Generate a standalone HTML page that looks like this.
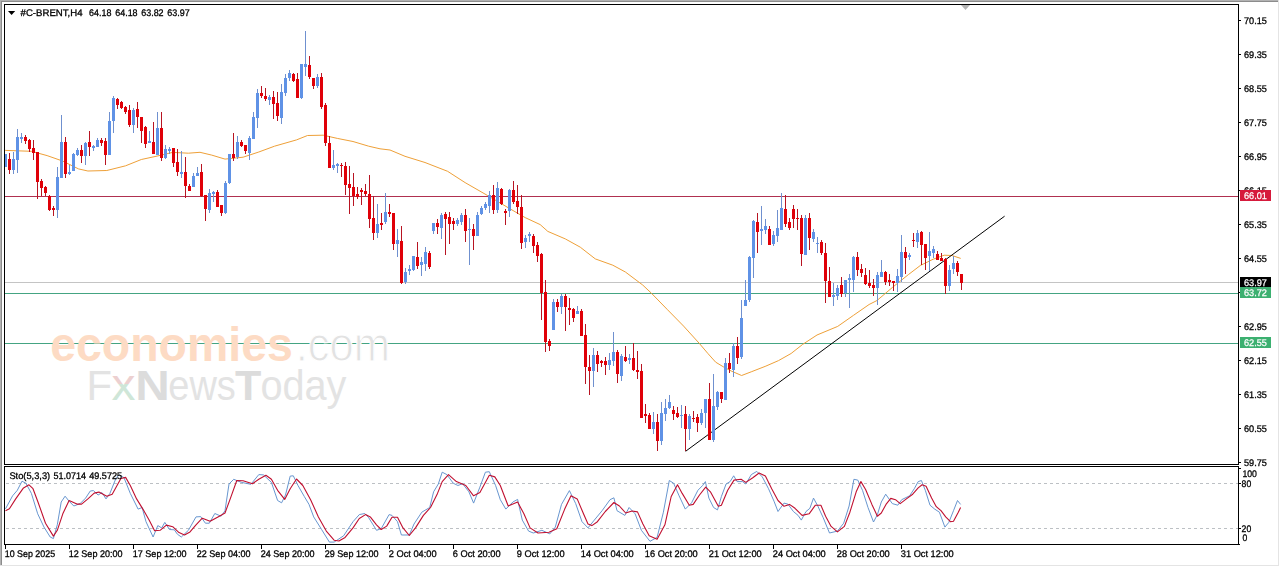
<!DOCTYPE html>
<html><head><meta charset="utf-8"><title>#C-BRENT,H4</title>
<style>html,body{margin:0;padding:0;background:#fff;overflow:hidden}svg{display:block}text{font-family:"Liberation Sans",sans-serif}</style></head><body>
<svg width="1280" height="567" viewBox="0 0 1280 567">
<rect width="1280" height="567" fill="#fff"/>
<g shape-rendering="crispEdges">
<rect x="0" y="0" width="1278" height="1" fill="#b2b2b2"/><rect x="0" y="1" width="1278" height="1" fill="#8c8c8c"/>
<rect x="0" y="0" width="1" height="566" fill="#b2b2b2"/><rect x="1" y="1" width="1" height="565" fill="#8c8c8c"/>
<rect x="1278" y="0" width="1" height="566" fill="#e4e4e4"/><rect x="0" y="565" width="1279" height="1" fill="#e4e4e4"/>
</g>
<g shape-rendering="crispEdges">
<rect x="5" y="196" width="1233" height="1" fill="#b03050"/>
<rect x="5" y="282" width="1233" height="1" fill="#c4c4c4"/>
<rect x="5" y="293" width="1233" height="1" fill="#44a482"/>
<rect x="5" y="343" width="1233" height="1" fill="#44a482"/>
</g>
<g id="wm">
<text x="50.2" y="360.6" font-size="48" font-weight="bold" fill="#fddbc4" textLength="242.6" lengthAdjust="spacingAndGlyphs">economies</text>
<text x="295.7" y="360.6" font-size="48" fill="#e2e2e2" stroke="#fff" stroke-width="1.1" textLength="94.3" lengthAdjust="spacingAndGlyphs">.com</text>
<defs><linearGradient id="xg" x1="0" y1="0" x2="0" y2="1"><stop offset="0.5" stop-color="#ecd0d0"/><stop offset="0.5" stop-color="#cfe6d8"/></linearGradient></defs>
<text x="86.4" y="399.8" font-size="41.8" fill="#e3e3e3">F</text>
<text x="111.5" y="399.8" font-size="44" fill="url(#xg)" textLength="24" lengthAdjust="spacingAndGlyphs">x</text>
<text x="135.2" y="399.8" font-size="41.8" font-weight="bold" fill="#dcdcdc" textLength="34.5" lengthAdjust="spacingAndGlyphs">N</text>
<text x="168.3" y="399.8" font-size="41.8" fill="#e3e3e3" textLength="67.5" lengthAdjust="spacingAndGlyphs">ews</text>
<text x="235" y="399.8" font-size="41.8" font-weight="bold" fill="#dcdcdc" textLength="26.3" lengthAdjust="spacingAndGlyphs">T</text>
<text x="260.4" y="399.8" font-size="41.8" fill="#e3e3e3" textLength="86" lengthAdjust="spacingAndGlyphs">oday</text>
</g>
<polyline points="4.0,150.4 5.5,150.4 31.4,151.3 47.1,155.6 62.8,161.1 78.5,168.9 87.9,171.0 106.8,170.5 125.6,165.8 141.3,159.5 157.0,156.1 172.7,152.4 188.4,153.2 200.0,152.3 211.7,155.1 225.0,159.1 243.1,157.2 258.8,152.0 274.5,146.2 296.5,139.9 307.5,135.5 323.2,135.2 337.3,138.4 353.0,141.5 368.7,146.2 380.0,148.8 390.0,150.0 405.0,156.3 425.0,162.5 447.6,171.3 465.1,182.6 487.7,195.6 510.2,208.9 525.2,217.6 540.2,224.6 547.8,231.4 565.3,238.9 580.3,247.2 595.3,258.9 612.8,265.2 625.4,272.0 642.7,285.0 651.4,293.2 667.1,309.3 683.6,326.1 699.3,343.4 707.9,353.5 715.7,362.2 723.5,366.9 731.4,371.1 741.6,375.5 751.8,371.6 765.9,366.1 778.5,360.6 791.1,353.5 802.5,344.5 817.0,335.0 837.7,326.4 853.4,315.4 869.1,304.5 877.0,300.5 892.7,287.2 908.4,274.6 920.3,265.5 933.2,259.2 944.2,255.2 952.0,255.5 960.7,258.4" fill="none" stroke="#eea038" stroke-width="1" stroke-linejoin="round"/>
<line x1="685.6" y1="451.3" x2="1004.6" y2="216.2" stroke="#000" stroke-width="1"/>
<g shape-rendering="crispEdges">
<rect x="5" y="154" width="2" height="13" fill="#5f92e6"/>
<rect x="9" y="153" width="1" height="21" fill="#b81422"/>
<rect x="8" y="159" width="3" height="11" fill="#e00008"/>
<rect x="13" y="152" width="1" height="22" fill="#6f90cf"/>
<rect x="12" y="159" width="3" height="11" fill="#5f92e6"/>
<rect x="17" y="129" width="1" height="44" fill="#6f90cf"/>
<rect x="16" y="137" width="3" height="23" fill="#5f92e6"/>
<rect x="21" y="133" width="1" height="10" fill="#6f90cf"/>
<rect x="20" y="137" width="3" height="2" fill="#5f92e6"/>
<rect x="25" y="135" width="1" height="9" fill="#b81422"/>
<rect x="24" y="137" width="3" height="4" fill="#e00008"/>
<rect x="29" y="139" width="1" height="13" fill="#b81422"/>
<rect x="28" y="140" width="3" height="9" fill="#e00008"/>
<rect x="33" y="140" width="1" height="20" fill="#b81422"/>
<rect x="32" y="148" width="3" height="5" fill="#e00008"/>
<rect x="37" y="152" width="1" height="47" fill="#b81422"/>
<rect x="36" y="152" width="3" height="30" fill="#e00008"/>
<rect x="41" y="179" width="1" height="17" fill="#b81422"/>
<rect x="40" y="181" width="3" height="7" fill="#e00008"/>
<rect x="45" y="186" width="1" height="10" fill="#b81422"/>
<rect x="44" y="187" width="3" height="6" fill="#e00008"/>
<rect x="49" y="195" width="1" height="16" fill="#b81422"/>
<rect x="48" y="196" width="3" height="14" fill="#e00008"/>
<rect x="53" y="206" width="1" height="10" fill="#b81422"/>
<rect x="52" y="208" width="3" height="2" fill="#e00008"/>
<rect x="57" y="167" width="1" height="51" fill="#6f90cf"/>
<rect x="56" y="177" width="3" height="33" fill="#5f92e6"/>
<rect x="61" y="115" width="1" height="63" fill="#6f90cf"/>
<rect x="60" y="142" width="3" height="36" fill="#5f92e6"/>
<rect x="65" y="137" width="1" height="41" fill="#b81422"/>
<rect x="64" y="142" width="3" height="32" fill="#e00008"/>
<rect x="69" y="165" width="1" height="10" fill="#6f90cf"/>
<rect x="68" y="172" width="3" height="2" fill="#5f92e6"/>
<rect x="73" y="153" width="1" height="18" fill="#6f90cf"/>
<rect x="72" y="154" width="3" height="17" fill="#5f92e6"/>
<rect x="77" y="148" width="1" height="8" fill="#6f90cf"/>
<rect x="76" y="150" width="3" height="5" fill="#5f92e6"/>
<rect x="81" y="145" width="1" height="18" fill="#b81422"/>
<rect x="80" y="150" width="3" height="6" fill="#e00008"/>
<rect x="85" y="142" width="1" height="23" fill="#6f90cf"/>
<rect x="84" y="143" width="3" height="13" fill="#5f92e6"/>
<rect x="89" y="131" width="1" height="25" fill="#b81422"/>
<rect x="88" y="142" width="3" height="5" fill="#e00008"/>
<rect x="93" y="145" width="1" height="6" fill="#6f90cf"/>
<rect x="92" y="146" width="3" height="2" fill="#5f92e6"/>
<rect x="97" y="138" width="1" height="9" fill="#6f90cf"/>
<rect x="96" y="140" width="3" height="7" fill="#5f92e6"/>
<rect x="101" y="138" width="1" height="8" fill="#b81422"/>
<rect x="100" y="140" width="3" height="3" fill="#e00008"/>
<rect x="105" y="138" width="1" height="27" fill="#b81422"/>
<rect x="104" y="141" width="3" height="14" fill="#e00008"/>
<rect x="109" y="112" width="1" height="43" fill="#6f90cf"/>
<rect x="108" y="121" width="3" height="34" fill="#5f92e6"/>
<rect x="113" y="96" width="1" height="37" fill="#6f90cf"/>
<rect x="112" y="98" width="3" height="23" fill="#5f92e6"/>
<rect x="117" y="98" width="1" height="11" fill="#b81422"/>
<rect x="116" y="99" width="3" height="6" fill="#e00008"/>
<rect x="121" y="101" width="1" height="8" fill="#b81422"/>
<rect x="120" y="102" width="3" height="6" fill="#e00008"/>
<rect x="125" y="106" width="1" height="8" fill="#b81422"/>
<rect x="124" y="107" width="3" height="5" fill="#e00008"/>
<rect x="129" y="105" width="1" height="22" fill="#b81422"/>
<rect x="128" y="110" width="3" height="15" fill="#e00008"/>
<rect x="133" y="108" width="1" height="25" fill="#6f90cf"/>
<rect x="132" y="110" width="3" height="15" fill="#5f92e6"/>
<rect x="137" y="102" width="1" height="26" fill="#b81422"/>
<rect x="136" y="109" width="3" height="8" fill="#e00008"/>
<rect x="141" y="117" width="1" height="26" fill="#b81422"/>
<rect x="140" y="117" width="3" height="14" fill="#e00008"/>
<rect x="145" y="126" width="1" height="22" fill="#b81422"/>
<rect x="144" y="127" width="3" height="17" fill="#e00008"/>
<rect x="149" y="131" width="1" height="12" fill="#6f90cf"/>
<rect x="148" y="141" width="3" height="2" fill="#5f92e6"/>
<rect x="153" y="122" width="1" height="32" fill="#b81422"/>
<rect x="152" y="142" width="3" height="12" fill="#e00008"/>
<rect x="157" y="112" width="1" height="43" fill="#6f90cf"/>
<rect x="156" y="128" width="3" height="27" fill="#5f92e6"/>
<rect x="161" y="112" width="1" height="49" fill="#b81422"/>
<rect x="160" y="128" width="3" height="30" fill="#e00008"/>
<rect x="165" y="145" width="1" height="14" fill="#6f90cf"/>
<rect x="164" y="149" width="3" height="9" fill="#5f92e6"/>
<rect x="169" y="147" width="1" height="7" fill="#6f90cf"/>
<rect x="168" y="149" width="3" height="2" fill="#5f92e6"/>
<rect x="173" y="148" width="1" height="19" fill="#b81422"/>
<rect x="172" y="148" width="3" height="15" fill="#e00008"/>
<rect x="177" y="149" width="1" height="27" fill="#b81422"/>
<rect x="176" y="162" width="3" height="10" fill="#e00008"/>
<rect x="181" y="151" width="1" height="27" fill="#6f90cf"/>
<rect x="180" y="172" width="3" height="2" fill="#5f92e6"/>
<rect x="185" y="157" width="1" height="41" fill="#b81422"/>
<rect x="184" y="172" width="3" height="14" fill="#e00008"/>
<rect x="189" y="184" width="1" height="7" fill="#b81422"/>
<rect x="188" y="186" width="3" height="5" fill="#e00008"/>
<rect x="193" y="173" width="1" height="14" fill="#6f90cf"/>
<rect x="192" y="176" width="3" height="11" fill="#5f92e6"/>
<rect x="197" y="167" width="1" height="9" fill="#6f90cf"/>
<rect x="196" y="173" width="3" height="3" fill="#5f92e6"/>
<rect x="201" y="164" width="1" height="33" fill="#b81422"/>
<rect x="200" y="172" width="3" height="24" fill="#e00008"/>
<rect x="205" y="195" width="1" height="26" fill="#b81422"/>
<rect x="204" y="195" width="3" height="14" fill="#e00008"/>
<rect x="209" y="189" width="1" height="24" fill="#6f90cf"/>
<rect x="208" y="193" width="3" height="17" fill="#5f92e6"/>
<rect x="213" y="191" width="1" height="11" fill="#6f90cf"/>
<rect x="212" y="192" width="3" height="2" fill="#5f92e6"/>
<rect x="217" y="190" width="1" height="17" fill="#b81422"/>
<rect x="216" y="192" width="3" height="15" fill="#e00008"/>
<rect x="221" y="205" width="1" height="11" fill="#b81422"/>
<rect x="220" y="205" width="3" height="8" fill="#e00008"/>
<rect x="225" y="181" width="1" height="33" fill="#6f90cf"/>
<rect x="224" y="183" width="3" height="30" fill="#5f92e6"/>
<rect x="229" y="154" width="1" height="30" fill="#6f90cf"/>
<rect x="228" y="154" width="3" height="29" fill="#5f92e6"/>
<rect x="233" y="133" width="1" height="28" fill="#b81422"/>
<rect x="232" y="154" width="3" height="4" fill="#e00008"/>
<rect x="237" y="136" width="1" height="23" fill="#6f90cf"/>
<rect x="236" y="142" width="3" height="15" fill="#5f92e6"/>
<rect x="241" y="140" width="1" height="7" fill="#b81422"/>
<rect x="240" y="142" width="3" height="4" fill="#e00008"/>
<rect x="245" y="145" width="1" height="9" fill="#b81422"/>
<rect x="244" y="145" width="3" height="6" fill="#e00008"/>
<rect x="249" y="136" width="1" height="24" fill="#6f90cf"/>
<rect x="248" y="138" width="3" height="15" fill="#5f92e6"/>
<rect x="253" y="112" width="1" height="27" fill="#6f90cf"/>
<rect x="252" y="117" width="3" height="22" fill="#5f92e6"/>
<rect x="257" y="89" width="1" height="39" fill="#6f90cf"/>
<rect x="256" y="93" width="3" height="25" fill="#5f92e6"/>
<rect x="261" y="86" width="1" height="12" fill="#b81422"/>
<rect x="260" y="93" width="3" height="3" fill="#e00008"/>
<rect x="265" y="88" width="1" height="13" fill="#b81422"/>
<rect x="264" y="96" width="3" height="3" fill="#e00008"/>
<rect x="269" y="95" width="1" height="10" fill="#6f90cf"/>
<rect x="268" y="97" width="3" height="3" fill="#5f92e6"/>
<rect x="273" y="91" width="1" height="28" fill="#b81422"/>
<rect x="272" y="97" width="3" height="7" fill="#e00008"/>
<rect x="277" y="92" width="1" height="29" fill="#b81422"/>
<rect x="276" y="103" width="3" height="13" fill="#e00008"/>
<rect x="281" y="84" width="1" height="40" fill="#6f90cf"/>
<rect x="280" y="92" width="3" height="26" fill="#5f92e6"/>
<rect x="285" y="74" width="1" height="22" fill="#6f90cf"/>
<rect x="284" y="78" width="3" height="15" fill="#5f92e6"/>
<rect x="289" y="70" width="1" height="11" fill="#6f90cf"/>
<rect x="288" y="73" width="3" height="5" fill="#5f92e6"/>
<rect x="293" y="73" width="1" height="9" fill="#b81422"/>
<rect x="292" y="74" width="3" height="7" fill="#e00008"/>
<rect x="297" y="73" width="1" height="25" fill="#b81422"/>
<rect x="296" y="79" width="3" height="19" fill="#e00008"/>
<rect x="301" y="64" width="1" height="35" fill="#6f90cf"/>
<rect x="300" y="64" width="3" height="34" fill="#5f92e6"/>
<rect x="305" y="31" width="1" height="45" fill="#6f90cf"/>
<rect x="304" y="64" width="3" height="3" fill="#5f92e6"/>
<rect x="309" y="56" width="1" height="23" fill="#b81422"/>
<rect x="308" y="65" width="3" height="12" fill="#e00008"/>
<rect x="313" y="78" width="1" height="11" fill="#b81422"/>
<rect x="312" y="78" width="3" height="8" fill="#e00008"/>
<rect x="317" y="74" width="1" height="14" fill="#6f90cf"/>
<rect x="316" y="77" width="3" height="9" fill="#5f92e6"/>
<rect x="321" y="73" width="1" height="36" fill="#b81422"/>
<rect x="320" y="77" width="3" height="30" fill="#e00008"/>
<rect x="325" y="103" width="1" height="43" fill="#b81422"/>
<rect x="324" y="105" width="3" height="38" fill="#e00008"/>
<rect x="329" y="136" width="1" height="32" fill="#b81422"/>
<rect x="328" y="143" width="3" height="25" fill="#e00008"/>
<rect x="333" y="150" width="1" height="20" fill="#6f90cf"/>
<rect x="332" y="165" width="3" height="3" fill="#5f92e6"/>
<rect x="337" y="163" width="1" height="10" fill="#6f90cf"/>
<rect x="336" y="164" width="3" height="2" fill="#5f92e6"/>
<rect x="341" y="163" width="1" height="14" fill="#b81422"/>
<rect x="340" y="165" width="3" height="1" fill="#e00008"/>
<rect x="345" y="162" width="1" height="33" fill="#b81422"/>
<rect x="344" y="166" width="3" height="19" fill="#e00008"/>
<rect x="349" y="166" width="1" height="48" fill="#b81422"/>
<rect x="348" y="184" width="3" height="4" fill="#e00008"/>
<rect x="353" y="173" width="1" height="33" fill="#b81422"/>
<rect x="352" y="187" width="3" height="9" fill="#e00008"/>
<rect x="357" y="187" width="1" height="12" fill="#b81422"/>
<rect x="356" y="194" width="3" height="3" fill="#e00008"/>
<rect x="361" y="188" width="1" height="17" fill="#b81422"/>
<rect x="360" y="190" width="3" height="2" fill="#e00008"/>
<rect x="365" y="184" width="1" height="12" fill="#b81422"/>
<rect x="364" y="191" width="3" height="3" fill="#e00008"/>
<rect x="369" y="175" width="1" height="53" fill="#b81422"/>
<rect x="368" y="194" width="3" height="25" fill="#e00008"/>
<rect x="373" y="196" width="1" height="44" fill="#b81422"/>
<rect x="372" y="218" width="3" height="15" fill="#e00008"/>
<rect x="377" y="204" width="1" height="34" fill="#6f90cf"/>
<rect x="376" y="224" width="3" height="9" fill="#5f92e6"/>
<rect x="381" y="213" width="1" height="17" fill="#b81422"/>
<rect x="380" y="223" width="3" height="2" fill="#e00008"/>
<rect x="385" y="193" width="1" height="31" fill="#6f90cf"/>
<rect x="384" y="212" width="3" height="10" fill="#5f92e6"/>
<rect x="389" y="204" width="1" height="13" fill="#b81422"/>
<rect x="388" y="212" width="3" height="2" fill="#e00008"/>
<rect x="393" y="213" width="1" height="37" fill="#b81422"/>
<rect x="392" y="213" width="3" height="31" fill="#e00008"/>
<rect x="397" y="229" width="1" height="28" fill="#6f90cf"/>
<rect x="396" y="240" width="3" height="4" fill="#5f92e6"/>
<rect x="401" y="226" width="1" height="58" fill="#b81422"/>
<rect x="400" y="241" width="3" height="42" fill="#e00008"/>
<rect x="405" y="268" width="1" height="16" fill="#6f90cf"/>
<rect x="404" y="272" width="3" height="10" fill="#5f92e6"/>
<rect x="409" y="265" width="1" height="10" fill="#6f90cf"/>
<rect x="408" y="269" width="3" height="2" fill="#5f92e6"/>
<rect x="413" y="256" width="1" height="15" fill="#6f90cf"/>
<rect x="412" y="256" width="3" height="14" fill="#5f92e6"/>
<rect x="417" y="242" width="1" height="27" fill="#b81422"/>
<rect x="416" y="257" width="3" height="9" fill="#e00008"/>
<rect x="421" y="257" width="1" height="19" fill="#6f90cf"/>
<rect x="420" y="262" width="3" height="3" fill="#5f92e6"/>
<rect x="425" y="247" width="1" height="24" fill="#6f90cf"/>
<rect x="424" y="252" width="3" height="12" fill="#5f92e6"/>
<rect x="429" y="251" width="1" height="18" fill="#b81422"/>
<rect x="428" y="253" width="3" height="14" fill="#e00008"/>
<rect x="433" y="223" width="1" height="11" fill="#6f90cf"/>
<rect x="432" y="223" width="3" height="8" fill="#5f92e6"/>
<rect x="437" y="219" width="1" height="15" fill="#b81422"/>
<rect x="436" y="223" width="3" height="4" fill="#e00008"/>
<rect x="441" y="213" width="1" height="26" fill="#6f90cf"/>
<rect x="440" y="215" width="3" height="13" fill="#5f92e6"/>
<rect x="445" y="212" width="1" height="43" fill="#b81422"/>
<rect x="444" y="214" width="3" height="5" fill="#e00008"/>
<rect x="449" y="212" width="1" height="32" fill="#b81422"/>
<rect x="448" y="217" width="3" height="7" fill="#e00008"/>
<rect x="453" y="218" width="1" height="12" fill="#b81422"/>
<rect x="452" y="221" width="3" height="3" fill="#e00008"/>
<rect x="457" y="218" width="1" height="8" fill="#6f90cf"/>
<rect x="456" y="220" width="3" height="4" fill="#5f92e6"/>
<rect x="461" y="213" width="1" height="12" fill="#6f90cf"/>
<rect x="460" y="215" width="3" height="7" fill="#5f92e6"/>
<rect x="465" y="209" width="1" height="33" fill="#b81422"/>
<rect x="464" y="215" width="3" height="16" fill="#e00008"/>
<rect x="469" y="218" width="1" height="47" fill="#6f90cf"/>
<rect x="468" y="229" width="3" height="1" fill="#5f92e6"/>
<rect x="473" y="224" width="1" height="26" fill="#b81422"/>
<rect x="472" y="229" width="3" height="7" fill="#e00008"/>
<rect x="477" y="212" width="1" height="24" fill="#6f90cf"/>
<rect x="476" y="215" width="3" height="21" fill="#5f92e6"/>
<rect x="481" y="206" width="1" height="9" fill="#6f90cf"/>
<rect x="480" y="208" width="3" height="6" fill="#5f92e6"/>
<rect x="485" y="202" width="1" height="8" fill="#6f90cf"/>
<rect x="484" y="204" width="3" height="4" fill="#5f92e6"/>
<rect x="489" y="191" width="1" height="22" fill="#6f90cf"/>
<rect x="488" y="195" width="3" height="11" fill="#5f92e6"/>
<rect x="493" y="185" width="1" height="29" fill="#b81422"/>
<rect x="492" y="195" width="3" height="15" fill="#e00008"/>
<rect x="497" y="182" width="1" height="31" fill="#6f90cf"/>
<rect x="496" y="188" width="3" height="22" fill="#5f92e6"/>
<rect x="501" y="188" width="1" height="17" fill="#b81422"/>
<rect x="500" y="189" width="3" height="15" fill="#e00008"/>
<rect x="505" y="209" width="1" height="16" fill="#b81422"/>
<rect x="504" y="211" width="3" height="2" fill="#e00008"/>
<rect x="509" y="189" width="1" height="28" fill="#6f90cf"/>
<rect x="508" y="190" width="3" height="21" fill="#5f92e6"/>
<rect x="513" y="181" width="1" height="23" fill="#b81422"/>
<rect x="512" y="190" width="3" height="12" fill="#e00008"/>
<rect x="517" y="185" width="1" height="29" fill="#b81422"/>
<rect x="516" y="201" width="3" height="6" fill="#e00008"/>
<rect x="521" y="195" width="1" height="54" fill="#b81422"/>
<rect x="520" y="207" width="3" height="36" fill="#e00008"/>
<rect x="525" y="235" width="1" height="13" fill="#6f90cf"/>
<rect x="524" y="238" width="3" height="4" fill="#5f92e6"/>
<rect x="529" y="232" width="1" height="10" fill="#6f90cf"/>
<rect x="528" y="234" width="3" height="2" fill="#5f92e6"/>
<rect x="533" y="234" width="1" height="19" fill="#b81422"/>
<rect x="532" y="236" width="3" height="10" fill="#e00008"/>
<rect x="537" y="242" width="1" height="20" fill="#b81422"/>
<rect x="536" y="245" width="3" height="11" fill="#e00008"/>
<rect x="541" y="253" width="1" height="67" fill="#b81422"/>
<rect x="540" y="254" width="3" height="39" fill="#e00008"/>
<rect x="545" y="280" width="1" height="72" fill="#b81422"/>
<rect x="544" y="292" width="3" height="50" fill="#e00008"/>
<rect x="549" y="339" width="1" height="12" fill="#b81422"/>
<rect x="548" y="341" width="3" height="5" fill="#e00008"/>
<rect x="553" y="299" width="1" height="31" fill="#6f90cf"/>
<rect x="552" y="302" width="3" height="28" fill="#5f92e6"/>
<rect x="557" y="299" width="1" height="13" fill="#b81422"/>
<rect x="556" y="302" width="3" height="5" fill="#e00008"/>
<rect x="561" y="294" width="1" height="20" fill="#6f90cf"/>
<rect x="560" y="296" width="3" height="11" fill="#5f92e6"/>
<rect x="565" y="294" width="1" height="37" fill="#b81422"/>
<rect x="564" y="296" width="3" height="11" fill="#e00008"/>
<rect x="569" y="298" width="1" height="27" fill="#b81422"/>
<rect x="568" y="308" width="3" height="2" fill="#e00008"/>
<rect x="573" y="308" width="1" height="14" fill="#b81422"/>
<rect x="572" y="309" width="3" height="9" fill="#e00008"/>
<rect x="577" y="306" width="1" height="8" fill="#6f90cf"/>
<rect x="576" y="311" width="3" height="3" fill="#5f92e6"/>
<rect x="581" y="309" width="1" height="27" fill="#b81422"/>
<rect x="580" y="311" width="3" height="25" fill="#e00008"/>
<rect x="585" y="324" width="1" height="60" fill="#b81422"/>
<rect x="584" y="335" width="3" height="32" fill="#e00008"/>
<rect x="589" y="355" width="1" height="40" fill="#b81422"/>
<rect x="588" y="367" width="3" height="4" fill="#e00008"/>
<rect x="593" y="348" width="1" height="39" fill="#6f90cf"/>
<rect x="592" y="355" width="3" height="16" fill="#5f92e6"/>
<rect x="597" y="351" width="1" height="21" fill="#b81422"/>
<rect x="596" y="355" width="3" height="9" fill="#e00008"/>
<rect x="601" y="360" width="1" height="7" fill="#b81422"/>
<rect x="600" y="361" width="3" height="2" fill="#e00008"/>
<rect x="605" y="357" width="1" height="18" fill="#b81422"/>
<rect x="604" y="361" width="3" height="4" fill="#e00008"/>
<rect x="609" y="353" width="1" height="17" fill="#6f90cf"/>
<rect x="608" y="360" width="3" height="5" fill="#5f92e6"/>
<rect x="613" y="332" width="1" height="34" fill="#6f90cf"/>
<rect x="612" y="352" width="3" height="9" fill="#5f92e6"/>
<rect x="617" y="350" width="1" height="33" fill="#b81422"/>
<rect x="616" y="352" width="3" height="22" fill="#e00008"/>
<rect x="621" y="354" width="1" height="27" fill="#6f90cf"/>
<rect x="620" y="356" width="3" height="20" fill="#5f92e6"/>
<rect x="625" y="346" width="1" height="16" fill="#b81422"/>
<rect x="624" y="357" width="3" height="4" fill="#e00008"/>
<rect x="629" y="354" width="1" height="10" fill="#6f90cf"/>
<rect x="628" y="358" width="3" height="2" fill="#5f92e6"/>
<rect x="633" y="343" width="1" height="28" fill="#b81422"/>
<rect x="632" y="358" width="3" height="12" fill="#e00008"/>
<rect x="637" y="351" width="1" height="28" fill="#b81422"/>
<rect x="636" y="370" width="3" height="2" fill="#e00008"/>
<rect x="641" y="364" width="1" height="54" fill="#b81422"/>
<rect x="640" y="371" width="3" height="47" fill="#e00008"/>
<rect x="645" y="404" width="1" height="19" fill="#b81422"/>
<rect x="644" y="414" width="3" height="2" fill="#e00008"/>
<rect x="649" y="413" width="1" height="16" fill="#b81422"/>
<rect x="648" y="415" width="3" height="14" fill="#e00008"/>
<rect x="653" y="412" width="1" height="22" fill="#6f90cf"/>
<rect x="652" y="422" width="3" height="7" fill="#5f92e6"/>
<rect x="657" y="414" width="1" height="37" fill="#b81422"/>
<rect x="656" y="422" width="3" height="19" fill="#e00008"/>
<rect x="661" y="402" width="1" height="43" fill="#6f90cf"/>
<rect x="660" y="413" width="3" height="28" fill="#5f92e6"/>
<rect x="665" y="399" width="1" height="22" fill="#6f90cf"/>
<rect x="664" y="408" width="3" height="6" fill="#5f92e6"/>
<rect x="669" y="395" width="1" height="14" fill="#6f90cf"/>
<rect x="668" y="402" width="3" height="6" fill="#5f92e6"/>
<rect x="673" y="406" width="1" height="14" fill="#b81422"/>
<rect x="672" y="410" width="3" height="4" fill="#e00008"/>
<rect x="677" y="407" width="1" height="11" fill="#b81422"/>
<rect x="676" y="413" width="3" height="4" fill="#e00008"/>
<rect x="681" y="405" width="1" height="23" fill="#6f90cf"/>
<rect x="680" y="415" width="3" height="1" fill="#5f92e6"/>
<rect x="685" y="406" width="1" height="45" fill="#b81422"/>
<rect x="684" y="414" width="3" height="15" fill="#e00008"/>
<rect x="689" y="414" width="1" height="26" fill="#6f90cf"/>
<rect x="688" y="416" width="3" height="13" fill="#5f92e6"/>
<rect x="693" y="411" width="1" height="11" fill="#b81422"/>
<rect x="692" y="418" width="3" height="1" fill="#e00008"/>
<rect x="697" y="414" width="1" height="18" fill="#b81422"/>
<rect x="696" y="417" width="3" height="6" fill="#e00008"/>
<rect x="701" y="409" width="1" height="16" fill="#6f90cf"/>
<rect x="700" y="413" width="3" height="10" fill="#5f92e6"/>
<rect x="705" y="399" width="1" height="29" fill="#6f90cf"/>
<rect x="704" y="399" width="3" height="14" fill="#5f92e6"/>
<rect x="709" y="383" width="1" height="57" fill="#b81422"/>
<rect x="708" y="399" width="3" height="41" fill="#e00008"/>
<rect x="713" y="374" width="1" height="68" fill="#6f90cf"/>
<rect x="712" y="406" width="3" height="34" fill="#5f92e6"/>
<rect x="717" y="391" width="1" height="19" fill="#6f90cf"/>
<rect x="716" y="392" width="3" height="15" fill="#5f92e6"/>
<rect x="721" y="392" width="1" height="11" fill="#b81422"/>
<rect x="720" y="392" width="3" height="7" fill="#e00008"/>
<rect x="725" y="358" width="1" height="42" fill="#6f90cf"/>
<rect x="724" y="363" width="3" height="37" fill="#5f92e6"/>
<rect x="729" y="353" width="1" height="20" fill="#b81422"/>
<rect x="728" y="363" width="3" height="6" fill="#e00008"/>
<rect x="733" y="343" width="1" height="34" fill="#6f90cf"/>
<rect x="732" y="346" width="3" height="24" fill="#5f92e6"/>
<rect x="737" y="337" width="1" height="27" fill="#b81422"/>
<rect x="736" y="346" width="3" height="12" fill="#e00008"/>
<rect x="741" y="300" width="1" height="59" fill="#6f90cf"/>
<rect x="740" y="318" width="3" height="39" fill="#5f92e6"/>
<rect x="745" y="280" width="1" height="26" fill="#6f90cf"/>
<rect x="744" y="300" width="3" height="6" fill="#5f92e6"/>
<rect x="749" y="256" width="1" height="46" fill="#6f90cf"/>
<rect x="748" y="257" width="3" height="43" fill="#5f92e6"/>
<rect x="753" y="220" width="1" height="58" fill="#6f90cf"/>
<rect x="752" y="221" width="3" height="37" fill="#5f92e6"/>
<rect x="757" y="213" width="1" height="40" fill="#b81422"/>
<rect x="756" y="222" width="3" height="10" fill="#e00008"/>
<rect x="761" y="206" width="1" height="39" fill="#6f90cf"/>
<rect x="760" y="229" width="3" height="2" fill="#5f92e6"/>
<rect x="765" y="219" width="1" height="15" fill="#6f90cf"/>
<rect x="764" y="226" width="3" height="4" fill="#5f92e6"/>
<rect x="769" y="226" width="1" height="19" fill="#b81422"/>
<rect x="768" y="229" width="3" height="16" fill="#e00008"/>
<rect x="773" y="231" width="1" height="15" fill="#6f90cf"/>
<rect x="772" y="235" width="3" height="9" fill="#5f92e6"/>
<rect x="777" y="210" width="1" height="32" fill="#6f90cf"/>
<rect x="776" y="228" width="3" height="8" fill="#5f92e6"/>
<rect x="781" y="193" width="1" height="37" fill="#6f90cf"/>
<rect x="780" y="208" width="3" height="22" fill="#5f92e6"/>
<rect x="785" y="195" width="1" height="32" fill="#b81422"/>
<rect x="784" y="209" width="3" height="15" fill="#e00008"/>
<rect x="789" y="218" width="1" height="12" fill="#b81422"/>
<rect x="788" y="222" width="3" height="6" fill="#e00008"/>
<rect x="793" y="205" width="1" height="23" fill="#b81422"/>
<rect x="792" y="209" width="3" height="10" fill="#e00008"/>
<rect x="797" y="209" width="1" height="21" fill="#b81422"/>
<rect x="796" y="218" width="3" height="1" fill="#e00008"/>
<rect x="801" y="215" width="1" height="51" fill="#b81422"/>
<rect x="800" y="218" width="3" height="36" fill="#e00008"/>
<rect x="805" y="215" width="1" height="40" fill="#6f90cf"/>
<rect x="804" y="218" width="3" height="37" fill="#5f92e6"/>
<rect x="809" y="213" width="1" height="37" fill="#b81422"/>
<rect x="808" y="218" width="3" height="20" fill="#e00008"/>
<rect x="813" y="229" width="1" height="13" fill="#6f90cf"/>
<rect x="812" y="232" width="3" height="7" fill="#5f92e6"/>
<rect x="817" y="237" width="1" height="16" fill="#6f90cf"/>
<rect x="816" y="243" width="3" height="1" fill="#5f92e6"/>
<rect x="821" y="240" width="1" height="15" fill="#b81422"/>
<rect x="820" y="242" width="3" height="11" fill="#e00008"/>
<rect x="825" y="243" width="1" height="60" fill="#b81422"/>
<rect x="824" y="253" width="3" height="28" fill="#e00008"/>
<rect x="829" y="267" width="1" height="30" fill="#b81422"/>
<rect x="828" y="281" width="3" height="16" fill="#e00008"/>
<rect x="833" y="283" width="1" height="23" fill="#6f90cf"/>
<rect x="832" y="295" width="3" height="2" fill="#5f92e6"/>
<rect x="837" y="285" width="1" height="15" fill="#6f90cf"/>
<rect x="836" y="288" width="3" height="8" fill="#5f92e6"/>
<rect x="841" y="277" width="1" height="20" fill="#b81422"/>
<rect x="840" y="285" width="3" height="9" fill="#e00008"/>
<rect x="845" y="280" width="1" height="17" fill="#6f90cf"/>
<rect x="844" y="280" width="3" height="13" fill="#5f92e6"/>
<rect x="849" y="274" width="1" height="34" fill="#6f90cf"/>
<rect x="848" y="278" width="3" height="2" fill="#5f92e6"/>
<rect x="853" y="256" width="1" height="36" fill="#6f90cf"/>
<rect x="852" y="257" width="3" height="23" fill="#5f92e6"/>
<rect x="857" y="252" width="1" height="24" fill="#b81422"/>
<rect x="856" y="257" width="3" height="13" fill="#e00008"/>
<rect x="861" y="264" width="1" height="13" fill="#b81422"/>
<rect x="860" y="269" width="3" height="4" fill="#e00008"/>
<rect x="865" y="268" width="1" height="17" fill="#b81422"/>
<rect x="864" y="275" width="3" height="9" fill="#e00008"/>
<rect x="869" y="270" width="1" height="18" fill="#b81422"/>
<rect x="868" y="283" width="3" height="3" fill="#e00008"/>
<rect x="873" y="279" width="1" height="17" fill="#b81422"/>
<rect x="872" y="285" width="3" height="3" fill="#e00008"/>
<rect x="877" y="272" width="1" height="33" fill="#6f90cf"/>
<rect x="876" y="275" width="3" height="13" fill="#5f92e6"/>
<rect x="881" y="260" width="1" height="17" fill="#6f90cf"/>
<rect x="880" y="272" width="3" height="5" fill="#5f92e6"/>
<rect x="885" y="271" width="1" height="14" fill="#b81422"/>
<rect x="884" y="272" width="3" height="10" fill="#e00008"/>
<rect x="889" y="274" width="1" height="12" fill="#b81422"/>
<rect x="888" y="280" width="3" height="2" fill="#e00008"/>
<rect x="893" y="281" width="1" height="10" fill="#b81422"/>
<rect x="892" y="281" width="3" height="2" fill="#e00008"/>
<rect x="897" y="269" width="1" height="23" fill="#6f90cf"/>
<rect x="896" y="276" width="3" height="7" fill="#5f92e6"/>
<rect x="901" y="235" width="1" height="47" fill="#6f90cf"/>
<rect x="900" y="252" width="3" height="25" fill="#5f92e6"/>
<rect x="905" y="247" width="1" height="27" fill="#b81422"/>
<rect x="904" y="252" width="3" height="6" fill="#e00008"/>
<rect x="909" y="253" width="1" height="7" fill="#6f90cf"/>
<rect x="908" y="255" width="3" height="2" fill="#5f92e6"/>
<rect x="913" y="233" width="1" height="14" fill="#b81422"/>
<rect x="912" y="240" width="3" height="1" fill="#e00008"/>
<rect x="917" y="230" width="1" height="18" fill="#6f90cf"/>
<rect x="916" y="233" width="3" height="9" fill="#5f92e6"/>
<rect x="921" y="231" width="1" height="34" fill="#b81422"/>
<rect x="920" y="232" width="3" height="13" fill="#e00008"/>
<rect x="925" y="244" width="1" height="26" fill="#b81422"/>
<rect x="924" y="244" width="3" height="14" fill="#e00008"/>
<rect x="929" y="232" width="1" height="39" fill="#6f90cf"/>
<rect x="928" y="251" width="3" height="5" fill="#5f92e6"/>
<rect x="933" y="246" width="1" height="12" fill="#6f90cf"/>
<rect x="932" y="249" width="3" height="4" fill="#5f92e6"/>
<rect x="937" y="251" width="1" height="9" fill="#b81422"/>
<rect x="936" y="254" width="3" height="6" fill="#e00008"/>
<rect x="941" y="253" width="1" height="8" fill="#b81422"/>
<rect x="940" y="258" width="3" height="3" fill="#e00008"/>
<rect x="945" y="258" width="1" height="36" fill="#b81422"/>
<rect x="944" y="259" width="3" height="27" fill="#e00008"/>
<rect x="949" y="265" width="1" height="26" fill="#6f90cf"/>
<rect x="948" y="270" width="3" height="16" fill="#5f92e6"/>
<rect x="953" y="256" width="1" height="18" fill="#6f90cf"/>
<rect x="952" y="263" width="3" height="6" fill="#5f92e6"/>
<rect x="957" y="261" width="1" height="15" fill="#b81422"/>
<rect x="956" y="263" width="3" height="9" fill="#e00008"/>
<rect x="961" y="274" width="1" height="16" fill="#b81422"/>
<rect x="960" y="274" width="3" height="9" fill="#e00008"/>
</g>
<g shape-rendering="crispEdges" fill="#000">
<rect x="4" y="4" width="1235" height="1"/>
<rect x="4" y="4" width="1" height="541"/>
<rect x="1238" y="4" width="1" height="461"/>
<rect x="4" y="464" width="1235" height="1"/>
<rect x="4" y="465" width="1235" height="1" fill="#fff"/>
<rect x="4" y="466" width="1235" height="1"/>
<rect x="1238" y="466" width="1" height="79"/>
<rect x="4" y="544" width="1236" height="1"/>
<rect x="1239" y="20" width="2" height="1"/>
<rect x="1239" y="54" width="2" height="1"/>
<rect x="1239" y="88" width="2" height="1"/>
<rect x="1239" y="122" width="2" height="1"/>
<rect x="1239" y="156" width="2" height="1"/>
<rect x="1239" y="190" width="2" height="1"/>
<rect x="1239" y="224" width="2" height="1"/>
<rect x="1239" y="258" width="2" height="1"/>
<rect x="1239" y="292" width="2" height="1"/>
<rect x="1239" y="326" width="2" height="1"/>
<rect x="1239" y="360" width="2" height="1"/>
<rect x="1239" y="394" width="2" height="1"/>
<rect x="1239" y="428" width="2" height="1"/>
<rect x="1239" y="462" width="2" height="1"/>
<rect x="1239" y="468" width="2" height="1"/>
<rect x="1239" y="483" width="2" height="1"/>
<rect x="1239" y="528" width="2" height="1"/>
<rect x="5" y="545" width="1" height="4"/>
<rect x="69" y="545" width="1" height="4"/>
<rect x="133" y="545" width="1" height="4"/>
<rect x="197" y="545" width="1" height="4"/>
<rect x="261" y="545" width="1" height="4"/>
<rect x="325" y="545" width="1" height="4"/>
<rect x="389" y="545" width="1" height="4"/>
<rect x="453" y="545" width="1" height="4"/>
<rect x="517" y="545" width="1" height="4"/>
<rect x="581" y="545" width="1" height="4"/>
<rect x="645" y="545" width="1" height="4"/>
<rect x="709" y="545" width="1" height="4"/>
<rect x="773" y="545" width="1" height="4"/>
<rect x="837" y="545" width="1" height="4"/>
<rect x="901" y="545" width="1" height="4"/>
</g>
<polygon points="961,5 970,5 965.5,10" fill="#b4b4b4"/>
<g shape-rendering="crispEdges" stroke="#bcc0c4" stroke-width="1" stroke-dasharray="3 3">
<line x1="6" y1="483.5" x2="1238" y2="483.5"/><line x1="6" y1="528.5" x2="1238" y2="528.5"/></g>
<polyline points="5.5,508.8 12.6,495.8 17.3,490.3 22.0,481.2 25.9,483.2 31.4,493.4 37.7,513.8 44.0,527.1 50.2,537.0 53.4,538.6 57.3,524.8 61.2,502.0 65.1,496.2 69.1,501.2 73.8,506.0 80.1,503.6 85.6,498.1 90.3,491.0 93.4,490.6 98.1,495.0 102.0,492.6 106.0,498.9 109.9,493.4 116.2,477.7 119.3,474.9 124.0,477.7 130.3,493.4 138.1,509.1 142.1,507.5 146.0,521.7 153.1,537.0 157.8,525.6 161.7,527.9 164.8,522.4 169.5,529.5 174.3,529.8 177.4,534.2 181.3,537.0 188.4,530.3 196.0,516.9 200.7,516.6 205.4,523.2 209.3,523.2 214.8,513.5 221.1,516.2 225.0,510.7 229.0,484.0 233.7,479.3 241.5,482.4 250.9,484.3 258.8,474.6 263.5,474.9 271.4,482.4 277.6,500.5 281.6,502.8 285.5,495.0 290.2,476.1 293.3,475.8 298.0,485.5 304.3,496.5 309.0,504.4 313.7,516.9 321.6,529.5 329.4,542.1 334.1,542.1 343.6,535.8 353.0,521.7 359.3,514.6 364.8,513.5 368.7,517.7 376.5,530.3 381.2,528.7 389.1,514.6 392.0,515.4 397.5,521.7 401.4,535.0 409.3,535.0 414.0,524.0 421.8,512.2 429.7,507.5 433.6,491.8 438.3,484.0 442.2,472.2 446.9,474.6 453.2,483.2 457.9,485.5 462.6,483.7 468.9,491.8 473.6,503.1 479.9,487.1 485.4,472.2 489.3,471.7 495.6,485.5 500.3,499.7 505.8,509.1 512.9,502.0 517.6,499.4 522.3,520.1 528.6,531.1 533.3,533.0 541.9,530.3 549.8,533.9 555.3,527.1 561.5,504.4 569.4,490.6 575.7,503.6 582.0,521.7 588.0,527.9 594.3,520.1 602.1,510.7 610.0,499.7 613.9,497.8 617.0,510.7 624.9,515.4 629.1,507.5 635.1,513.8 641.4,530.3 650.0,541.3 657.1,537.4 663.4,512.2 669.3,480.5 673.6,483.2 679.1,495.8 685.3,509.1 691.6,502.8 697.9,490.3 702.6,485.5 705.4,481.6 708.9,498.1 713.6,507.5 717.5,509.9 721.4,496.5 726.1,484.0 730.1,481.6 733.7,475.8 737.1,481.6 742.6,481.6 745.8,484.0 751.3,474.6 756.8,471.4 762.3,476.9 768.5,488.7 774.0,501.2 778.0,511.5 784.0,503.1 787.9,504.1 793.4,511.5 798.1,515.4 801.3,520.1 806.0,511.5 809.9,508.3 813.5,498.1 817.8,506.0 823.2,517.7 829.5,533.0 837.4,531.1 843.7,523.2 849.1,506.0 853.9,479.3 857.8,480.1 862.5,490.3 868.0,507.5 873.5,522.0 877.4,514.6 881.3,502.0 885.7,494.2 892.3,503.6 897.8,505.2 901.7,499.7 909.6,495.8 914.3,488.7 918.2,481.6 921.4,480.5 925.3,490.3 930.0,505.2 934.7,509.1 939.4,512.2 944.9,527.1 948.8,522.4 953.5,510.7 957.5,500.5 960.6,504.4" fill="none" stroke="#6090cc" stroke-width="0.95" stroke-linejoin="round"/>
<polyline points="5.5,510.7 9.4,508.8 15.7,498.9 23.5,487.9 29.0,484.8 33.0,488.7 37.7,501.2 45.5,523.2 53.4,536.1 57.3,530.3 62.8,513.8 69.1,500.5 76.9,504.1 81.6,504.1 87.9,498.9 94.2,493.1 98.9,492.1 106.8,496.2 112.2,494.2 120.9,478.5 125.6,477.4 130.3,485.5 136.6,498.9 142.9,509.1 149.1,520.1 154.6,530.8 160.1,530.3 166.4,525.1 172.7,526.7 179.0,532.6 184.5,535.0 190.0,531.9 196.0,524.8 202.3,518.2 210.1,521.3 218.0,516.9 225.0,513.0 230.5,498.1 236.8,480.5 243.1,480.8 252.5,483.7 258.8,479.3 265.9,475.3 271.4,479.3 277.6,490.3 284.7,499.4 290.2,488.7 296.5,479.0 302.8,485.5 310.6,499.7 318.4,516.9 326.3,531.1 334.1,540.2 338.9,541.0 345.1,537.4 353.0,527.9 359.3,518.5 365.5,514.6 370.3,516.9 376.5,524.8 381.2,529.5 386.7,526.1 392.0,517.3 397.5,517.3 403.0,527.9 409.3,535.5 415.5,527.9 423.4,515.4 430.5,507.5 437.5,493.4 442.2,481.6 448.5,474.6 456.4,481.6 465.8,485.5 473.6,495.8 479.9,492.6 489.3,475.3 494.8,476.9 500.3,485.5 508.2,506.0 517.6,502.0 523.9,513.8 530.1,527.9 538.0,533.0 549.0,532.3 556.8,528.7 564.7,509.1 571.0,495.8 577.2,498.9 583.5,513.8 588.0,524.0 591.9,525.6 597.4,521.7 605.3,511.5 613.9,502.5 619.4,506.0 625.7,513.0 632.0,511.0 637.5,511.9 642.9,524.0 649.2,535.8 657.1,539.2 664.9,524.8 671.2,496.5 677.5,484.8 682.2,493.4 689.3,505.2 693.2,504.4 699.5,495.0 705.7,487.1 710.4,491.8 718.3,506.3 721.4,505.2 727.7,490.3 734.0,480.1 741.1,479.3 745.8,482.4 752.8,477.7 759.1,473.0 765.4,476.1 771.7,488.7 778.0,500.5 784.0,506.3 789.5,504.4 795.0,508.3 802.1,515.4 809.1,513.8 815.4,505.2 820.9,505.2 825.6,516.2 831.1,526.4 837.4,531.9 844.4,526.4 849.9,512.2 856.2,491.8 860.9,481.6 865.6,489.5 871.9,504.4 877.4,516.2 881.3,513.0 886.0,504.4 890.8,498.4 895.5,499.7 900.2,503.6 906.4,498.9 912.7,494.2 918.2,487.9 922.1,484.8 926.1,486.3 931.6,498.1 936.3,506.7 941.0,510.7 945.7,516.9 950.4,521.7 953.5,521.3 958.3,512.2 960.6,507.5" fill="none" stroke="#c01030" stroke-width="1.1" stroke-linejoin="round"/>
<defs><filter id="idf" x="0" y="0" width="1" height="1" filterUnits="objectBoundingBox"><feOffset dx="0" dy="0"/></filter></defs><g filter="url(#idf)" text-rendering="geometricPrecision">
<polygon points="8,11 15.2,11 11.6,15" fill="#000"/>
<text x="20.6" y="15.8" font-size="9.6" fill="#000" stroke="#000" stroke-width="0.3" textLength="61.9" lengthAdjust="spacingAndGlyphs">#C-BRENT,H4</text>
<text x="89" y="15.8" font-size="9.6" fill="#000" stroke="#000" stroke-width="0.3" textLength="22.4" lengthAdjust="spacingAndGlyphs">64.18</text>
<text x="115.2" y="15.8" font-size="9.6" fill="#000" stroke="#000" stroke-width="0.3" textLength="22.4" lengthAdjust="spacingAndGlyphs">64.18</text>
<text x="141.2" y="15.8" font-size="9.6" fill="#000" stroke="#000" stroke-width="0.3" textLength="22.4" lengthAdjust="spacingAndGlyphs">63.82</text>
<text x="167.3" y="15.8" font-size="9.6" fill="#000" stroke="#000" stroke-width="0.3" textLength="22.4" lengthAdjust="spacingAndGlyphs">63.97</text>
<text x="9.4" y="479.4" font-size="9.6" fill="#000" stroke="#000" stroke-width="0.3" textLength="40.8" lengthAdjust="spacingAndGlyphs">Sto(5,3,3)</text>
<text x="53.4" y="479.4" font-size="9.6" fill="#000" stroke="#000" stroke-width="0.3" textLength="32.6" lengthAdjust="spacingAndGlyphs">51.0714</text>
<text x="89.2" y="479.4" font-size="9.6" fill="#000" stroke="#000" stroke-width="0.3" textLength="32.9" lengthAdjust="spacingAndGlyphs">49.5725</text>
<text x="1244" y="23.7" font-size="9.6" fill="#000" stroke="#000" stroke-width="0.3" textLength="22.9" lengthAdjust="spacingAndGlyphs">70.15</text>
<text x="1244" y="57.7" font-size="9.6" fill="#000" stroke="#000" stroke-width="0.3" textLength="22.9" lengthAdjust="spacingAndGlyphs">69.35</text>
<text x="1244" y="91.7" font-size="9.6" fill="#000" stroke="#000" stroke-width="0.3" textLength="22.9" lengthAdjust="spacingAndGlyphs">68.55</text>
<text x="1244" y="125.7" font-size="9.6" fill="#000" stroke="#000" stroke-width="0.3" textLength="22.9" lengthAdjust="spacingAndGlyphs">67.75</text>
<text x="1244" y="159.7" font-size="9.6" fill="#000" stroke="#000" stroke-width="0.3" textLength="22.9" lengthAdjust="spacingAndGlyphs">66.95</text>
<text x="1244" y="193.7" font-size="9.6" fill="#000" stroke="#000" stroke-width="0.3" textLength="22.9" lengthAdjust="spacingAndGlyphs">66.15</text>
<text x="1244" y="227.7" font-size="9.6" fill="#000" stroke="#000" stroke-width="0.3" textLength="22.9" lengthAdjust="spacingAndGlyphs">65.35</text>
<text x="1244" y="261.7" font-size="9.6" fill="#000" stroke="#000" stroke-width="0.3" textLength="22.9" lengthAdjust="spacingAndGlyphs">64.55</text>
<text x="1244" y="329.7" font-size="9.6" fill="#000" stroke="#000" stroke-width="0.3" textLength="22.9" lengthAdjust="spacingAndGlyphs">62.95</text>
<text x="1244" y="363.7" font-size="9.6" fill="#000" stroke="#000" stroke-width="0.3" textLength="22.9" lengthAdjust="spacingAndGlyphs">62.15</text>
<text x="1244" y="397.7" font-size="9.6" fill="#000" stroke="#000" stroke-width="0.3" textLength="22.9" lengthAdjust="spacingAndGlyphs">61.35</text>
<text x="1244" y="431.7" font-size="9.6" fill="#000" stroke="#000" stroke-width="0.3" textLength="22.9" lengthAdjust="spacingAndGlyphs">60.55</text>
<text x="1244" y="465.7" font-size="9.6" fill="#000" stroke="#000" stroke-width="0.3" textLength="22.9" lengthAdjust="spacingAndGlyphs">59.75</text>
<text x="1242.4" y="476.8" font-size="9.6" fill="#000" stroke="#000" stroke-width="0.3" textLength="14.5" lengthAdjust="spacingAndGlyphs">100</text>
<text x="1241.6" y="487.1" font-size="9.6" fill="#000" stroke="#000" stroke-width="0.3" textLength="9.6" lengthAdjust="spacingAndGlyphs">80</text>
<text x="1241.6" y="532.1" font-size="9.6" fill="#000" stroke="#000" stroke-width="0.3" textLength="9.6" lengthAdjust="spacingAndGlyphs">20</text>
<text x="1242.4" y="541" font-size="9.6" fill="#000" stroke="#000" stroke-width="0.3" textLength="4.8" lengthAdjust="spacingAndGlyphs">0</text>
<rect x="1240" y="190" width="31" height="11" fill="#d61a3c" shape-rendering="crispEdges"/>
<text x="1244" y="199.1" font-size="9.6" fill="#fff" stroke="#fff" stroke-width="0.25" textLength="22.9" lengthAdjust="spacingAndGlyphs">66.01</text>
<rect x="1240" y="277" width="31" height="10" fill="#000" shape-rendering="crispEdges"/>
<text x="1244" y="285.6" font-size="9.6" fill="#fff" stroke="#fff" stroke-width="0.25" textLength="22.9" lengthAdjust="spacingAndGlyphs">63.97</text>
<rect x="1240" y="287" width="31" height="11" fill="#3cb070" shape-rendering="crispEdges"/>
<text x="1244" y="296.1" font-size="9.6" fill="#fff" stroke="#fff" stroke-width="0.25" textLength="22.9" lengthAdjust="spacingAndGlyphs">63.72</text>
<rect x="1240" y="337" width="31" height="11" fill="#3cb070" shape-rendering="crispEdges"/>
<text x="1244" y="346.1" font-size="9.6" fill="#fff" stroke="#fff" stroke-width="0.25" textLength="22.9" lengthAdjust="spacingAndGlyphs">62.55</text>
<text x="4.8" y="557" font-size="9.6" fill="#000" stroke="#000" stroke-width="0.3" textLength="50.3" lengthAdjust="spacingAndGlyphs">10 Sep 2025</text>
<text x="68.8" y="557" font-size="9.6" fill="#000" stroke="#000" stroke-width="0.3" textLength="53.7" lengthAdjust="spacingAndGlyphs">12 Sep 20:00</text>
<text x="132.8" y="557" font-size="9.6" fill="#000" stroke="#000" stroke-width="0.3" textLength="53.7" lengthAdjust="spacingAndGlyphs">17 Sep 12:00</text>
<text x="196.8" y="557" font-size="9.6" fill="#000" stroke="#000" stroke-width="0.3" textLength="53.7" lengthAdjust="spacingAndGlyphs">22 Sep 04:00</text>
<text x="260.8" y="557" font-size="9.6" fill="#000" stroke="#000" stroke-width="0.3" textLength="53.7" lengthAdjust="spacingAndGlyphs">24 Sep 20:00</text>
<text x="324.8" y="557" font-size="9.6" fill="#000" stroke="#000" stroke-width="0.3" textLength="53.7" lengthAdjust="spacingAndGlyphs">29 Sep 12:00</text>
<text x="388.8" y="557" font-size="9.6" fill="#000" stroke="#000" stroke-width="0.3" textLength="47.8" lengthAdjust="spacingAndGlyphs">2 Oct 04:00</text>
<text x="452.8" y="557" font-size="9.6" fill="#000" stroke="#000" stroke-width="0.3" textLength="47.8" lengthAdjust="spacingAndGlyphs">6 Oct 20:00</text>
<text x="516.8" y="557" font-size="9.6" fill="#000" stroke="#000" stroke-width="0.3" textLength="47.8" lengthAdjust="spacingAndGlyphs">9 Oct 12:00</text>
<text x="580.8" y="557" font-size="9.6" fill="#000" stroke="#000" stroke-width="0.3" textLength="52.9" lengthAdjust="spacingAndGlyphs">14 Oct 04:00</text>
<text x="644.8" y="557" font-size="9.6" fill="#000" stroke="#000" stroke-width="0.3" textLength="52.9" lengthAdjust="spacingAndGlyphs">16 Oct 20:00</text>
<text x="708.8" y="557" font-size="9.6" fill="#000" stroke="#000" stroke-width="0.3" textLength="52.9" lengthAdjust="spacingAndGlyphs">21 Oct 12:00</text>
<text x="772.8" y="557" font-size="9.6" fill="#000" stroke="#000" stroke-width="0.3" textLength="52.9" lengthAdjust="spacingAndGlyphs">24 Oct 04:00</text>
<text x="836.8" y="557" font-size="9.6" fill="#000" stroke="#000" stroke-width="0.3" textLength="52.9" lengthAdjust="spacingAndGlyphs">28 Oct 20:00</text>
<text x="900.8" y="557" font-size="9.6" fill="#000" stroke="#000" stroke-width="0.3" textLength="52.9" lengthAdjust="spacingAndGlyphs">31 Oct 12:00</text>
</g>
</svg></body></html>
